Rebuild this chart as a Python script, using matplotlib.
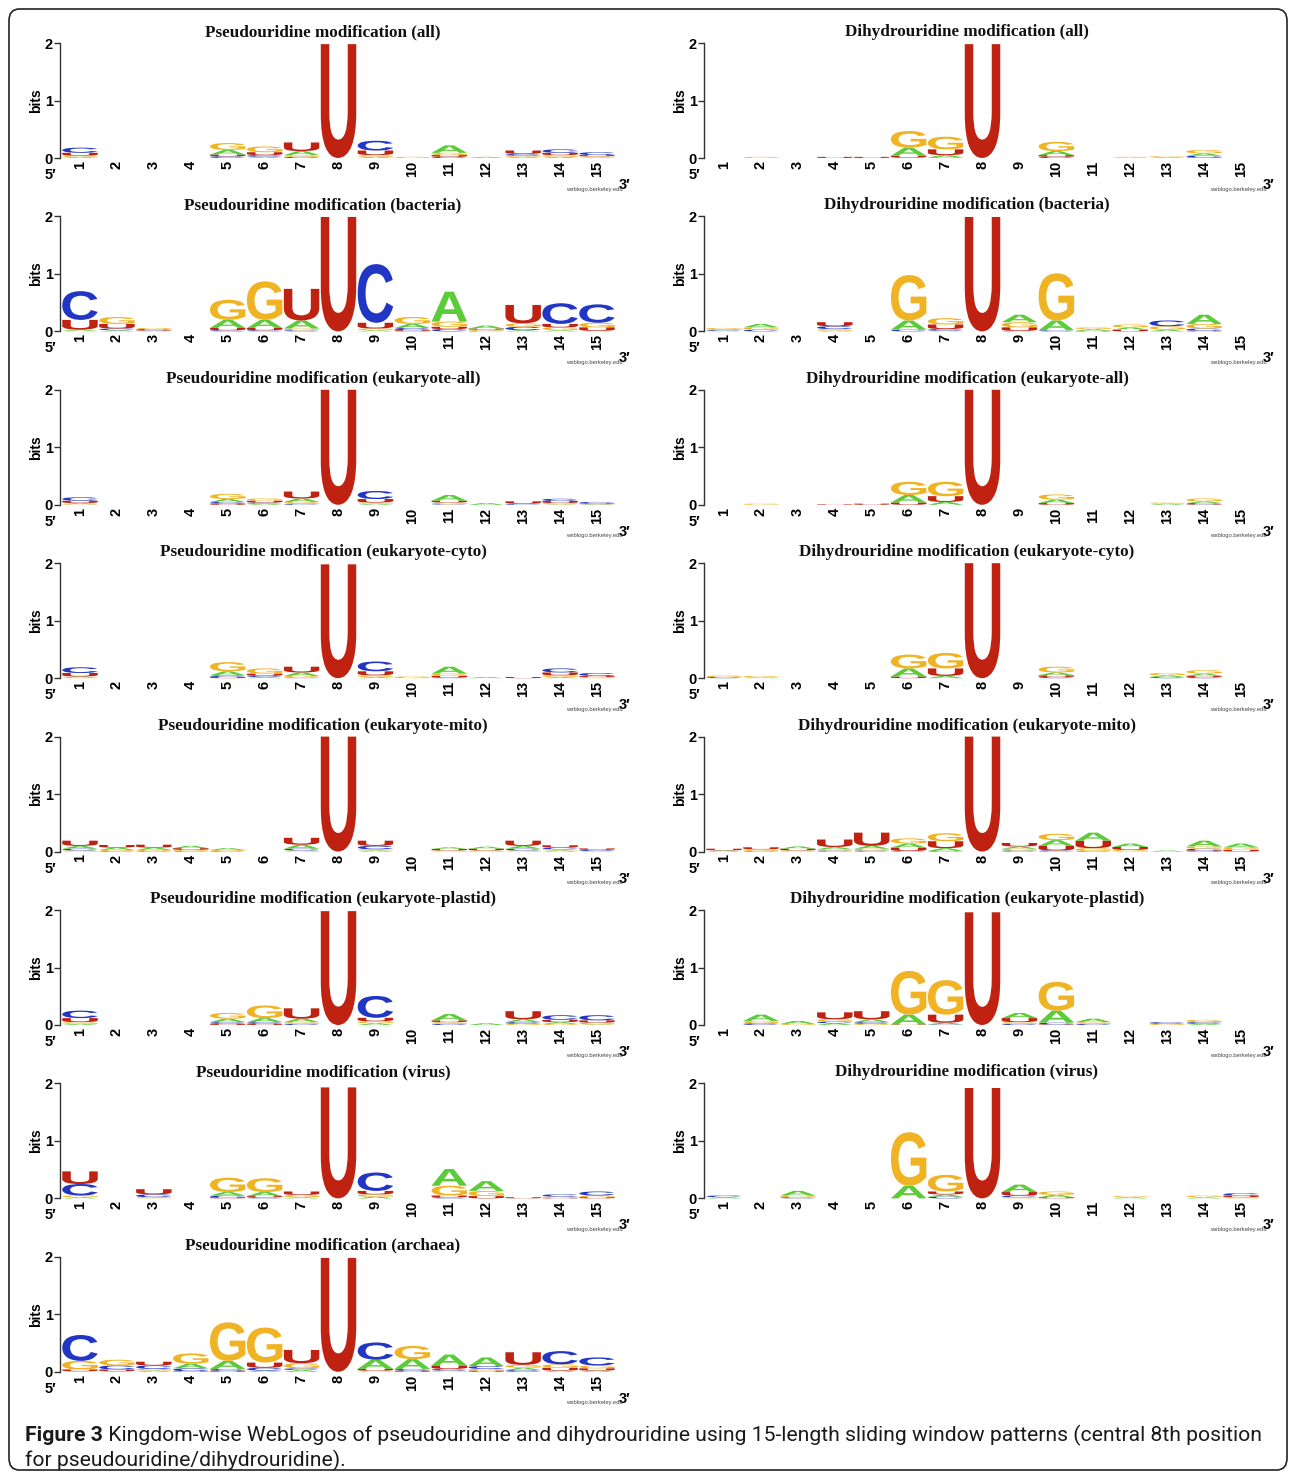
import matplotlib
matplotlib.use("Agg")
import matplotlib.pyplot as plt
import matplotlib.transforms as mtransforms
from matplotlib.textpath import TextPath
from matplotlib.patches import PathPatch, FancyBboxPatch
from matplotlib.font_manager import FontProperties

# ---- data: information content (bits) per letter, positions 1..15 ----
positions = list(range(1, 16))
letters = ["A", "C", "G", "U"]

psi_all = {
    "A": [0.02, 0, 0, 0, 0.08, 0.02, 0.07, 0, 0.02, 0, 0.13, 0.02, 0.02, 0.02, 0.01],
    "C": [0.09, 0, 0, 0, 0.03, 0.03, 0.02, 0, 0.17, 0, 0.02, 0, 0.03, 0.06, 0.05],
    "G": [0.02, 0, 0, 0, 0.12, 0.10, 0.03, 0, 0.03, 0.02, 0.04, 0, 0.02, 0.03, 0.02],
    "U": [0.05, 0, 0, 0, 0.03, 0.05, 0.15, 1.98, 0.08, 0, 0.03, 0, 0.06, 0.04, 0.02],
}
psi_bact = {
    "A": [0.02, 0.02, 0.01, 0, 0.14, 0.14, 0.14, 0, 0.02, 0.07, 0.52, 0.05, 0.02, 0.02, 0.01],
    "C": [0.50, 0.03, 0.02, 0, 0.02, 0.02, 0.02, 0, 1.02, 0.04, 0.04, 0.01, 0.06, 0.36, 0.32],
    "G": [0.01, 0.12, 0.02, 0, 0.35, 0.67, 0.03, 0, 0.03, 0.12, 0.09, 0.02, 0.06, 0.05, 0.08],
    "U": [0.17, 0.08, 0.01, 0, 0.04, 0.04, 0.55, 1.99, 0.10, 0.02, 0.04, 0.02, 0.32, 0.06, 0.06],
}
psi_euk_all = {
    "A": [0.02, 0, 0, 0, 0.05, 0.02, 0.06, 0, 0.02, 0, 0.10, 0.03, 0, 0.01, 0.01],
    "C": [0.06, 0, 0, 0, 0.03, 0.02, 0.02, 0, 0.14, 0, 0.01, 0, 0.02, 0.04, 0.03],
    "G": [0.01, 0, 0, 0, 0.09, 0.04, 0.03, 0, 0.02, 0, 0.03, 0, 0, 0.02, 0],
    "U": [0.04, 0, 0, 0, 0.02, 0.03, 0.12, 2.0, 0.06, 0, 0.03, 0, 0.04, 0.035, 0.01],
}
psi_euk_cyto = {
    "A": [0.02, 0, 0, 0, 0.07, 0.02, 0.06, 0, 0.02, 0, 0.12, 0.02, 0, 0.02, 0],
    "C": [0.10, 0, 0, 0, 0.03, 0.02, 0.01, 0, 0.17, 0, 0.01, 0, 0, 0.07, 0.05],
    "G": [0.01, 0, 0, 0, 0.16, 0.09, 0.03, 0, 0.03, 0.03, 0.04, 0, 0, 0.03, 0.02],
    "U": [0.06, 0, 0, 0, 0.02, 0.04, 0.10, 1.98, 0.07, 0, 0.03, 0, 0.02, 0.05, 0.02],
}
psi_euk_mito = {
    "A": [0.05, 0.04, 0.04, 0.04, 0.03, 0, 0.07, 0, 0.02, 0, 0.03, 0.035, 0.05, 0.02, 0.01],
    "C": [0.03, 0.01, 0.01, 0.01, 0.01, 0, 0.03, 0, 0.06, 0, 0, 0, 0.03, 0.03, 0.02],
    "G": [0.02, 0.02, 0.02, 0.02, 0.02, 0, 0.02, 0, 0.02, 0, 0.02, 0.02, 0.02, 0.02, 0],
    "U": [0.09, 0.045, 0.05, 0.03, 0, 0, 0.12, 2.0, 0.09, 0, 0.025, 0.03, 0.09, 0.04, 0.025],
}
psi_euk_plastid = {
    "A": [0.02, 0, 0, 0, 0.06, 0.07, 0.06, 0, 0.03, 0, 0.11, 0.03, 0.05, 0.03, 0.01],
    "C": [0.13, 0, 0, 0, 0.03, 0.03, 0.02, 0, 0.38, 0, 0.02, 0, 0.03, 0.08, 0.09],
    "G": [0.03, 0, 0, 0, 0.10, 0.22, 0.03, 0, 0.035, 0, 0.03, 0, 0.02, 0.02, 0.03],
    "U": [0.07, 0, 0, 0, 0.02, 0.02, 0.18, 1.98, 0.06, 0, 0.03, 0, 0.14, 0.04, 0.04],
}
psi_virus = {
    "A": [0.02, 0, 0, 0, 0.06, 0.07, 0.02, 0, 0.03, 0, 0.29, 0.17, 0, 0, 0],
    "C": [0.20, 0, 0.05, 0, 0.03, 0.02, 0, 0, 0.32, 0, 0.02, 0, 0, 0.04, 0.07],
    "G": [0.03, 0, 0.02, 0, 0.25, 0.24, 0.04, 0, 0.04, 0, 0.17, 0.09, 0, 0.02, 0.03],
    "U": [0.22, 0, 0.09, 0, 0.02, 0.02, 0.06, 1.93, 0.06, 0, 0.03, 0.04, 0.02, 0.01, 0.02],
}
psi_archaea = {
    "A": [0.01, 0.01, 0.02, 0.08, 0.14, 0.02, 0.03, 0, 0.16, 0.17, 0.19, 0.15, 0.04, 0.02, 0.02],
    "C": [0.45, 0.07, 0.06, 0.05, 0.03, 0.05, 0.03, 0, 0.30, 0.03, 0.03, 0.05, 0.03, 0.23, 0.14],
    "G": [0.15, 0.10, 0.03, 0.18, 0.67, 0.61, 0.09, 0, 0.02, 0.23, 0.02, 0.03, 0.05, 0.06, 0.05],
    "U": [0.03, 0.03, 0.065, 0.01, 0.02, 0.09, 0.23, 1.98, 0.03, 0.02, 0.06, 0.02, 0.22, 0.05, 0.04],
}

d_all = {
    "A": [0, 0, 0, 0, 0, 0.14, 0.04, 0, 0, 0.07, 0, 0.01, 0.015, 0.04, 0],
    "C": [0, 0, 0, 0, 0, 0.01, 0.01, 0, 0, 0.02, 0, 0, 0, 0.03, 0],
    "G": [0, 0.02, 0, 0, 0, 0.29, 0.22, 0, 0, 0.16, 0, 0.01, 0.015, 0.06, 0],
    "U": [0, 0, 0, 0.02, 0.02, 0.03, 0.10, 1.98, 0, 0.03, 0, 0, 0, 0.01, 0],
}
d_bact = {
    "A": [0.01, 0.06, 0, 0.01, 0, 0.16, 0.01, 0, 0.13, 0.17, 0.03, 0.04, 0.03, 0.16, 0],
    "C": [0.02, 0.03, 0, 0.05, 0, 0.03, 0.03, 0, 0.01, 0.02, 0, 0, 0.10, 0.04, 0],
    "G": [0.03, 0.04, 0, 0.03, 0, 0.79, 0.11, 0, 0.09, 0.82, 0.03, 0.05, 0.06, 0.08, 0],
    "U": [0, 0, 0, 0.07, 0, 0, 0.08, 1.99, 0.06, 0, 0.01, 0.03, 0, 0.01, 0],
}
d_euk_all = {
    "A": [0, 0, 0, 0, 0, 0.13, 0.05, 0, 0, 0.06, 0, 0, 0.02, 0.03, 0],
    "C": [0, 0, 0, 0, 0, 0, 0, 0, 0, 0, 0, 0, 0, 0.02, 0],
    "G": [0, 0.02, 0, 0, 0, 0.23, 0.25, 0, 0, 0.09, 0, 0, 0.02, 0.05, 0],
    "U": [0, 0, 0, 0.01, 0.02, 0.04, 0.10, 2.0, 0, 0.03, 0, 0, 0, 0.01, 0],
}
d_euk_cyto = {
    "A": [0, 0.01, 0, 0, 0, 0.14, 0.04, 0, 0, 0.05, 0, 0, 0.03, 0.04, 0],
    "C": [0.02, 0, 0, 0, 0, 0, 0, 0, 0, 0.02, 0, 0, 0.02, 0.02, 0],
    "G": [0.025, 0.03, 0, 0, 0, 0.24, 0.27, 0, 0, 0.10, 0, 0, 0.04, 0.06, 0],
    "U": [0, 0, 0, 0, 0, 0.03, 0.13, 2.0, 0, 0.03, 0, 0, 0, 0.02, 0],
}
d_euk_mito = {
    "A": [0.02, 0, 0.04, 0.04, 0.05, 0.07, 0.05, 0, 0.04, 0.10, 0.14, 0.06, 0.02, 0.10, 0.07],
    "C": [0, 0.01, 0, 0.02, 0.02, 0.01, 0.01, 0, 0.02, 0.02, 0.01, 0, 0, 0.03, 0],
    "G": [0, 0.03, 0.02, 0.02, 0.03, 0.09, 0.14, 0, 0.03, 0.11, 0.05, 0.03, 0, 0.04, 0.04],
    "U": [0.03, 0.035, 0.03, 0.13, 0.23, 0.06, 0.12, 2.0, 0.06, 0.08, 0.13, 0.05, 0, 0.02, 0.03],
}
d_euk_plastid = {
    "A": [0, 0.11, 0.05, 0.03, 0.05, 0.17, 0.03, 0, 0.09, 0.21, 0.06, 0, 0, 0.02, 0],
    "C": [0, 0.03, 0, 0.03, 0.03, 0, 0.01, 0, 0.02, 0.03, 0.02, 0, 0.03, 0.03, 0],
    "G": [0, 0.04, 0.02, 0.04, 0.02, 0.76, 0.60, 0, 0.03, 0.50, 0.03, 0, 0.02, 0.04, 0],
    "U": [0, 0, 0, 0.12, 0.14, 0.01, 0.14, 1.96, 0.07, 0.01, 0, 0, 0, 0, 0],
}
d_virus = {
    "A": [0.02, 0, 0.08, 0, 0, 0.22, 0.04, 0, 0.13, 0.04, 0, 0.02, 0, 0.02, 0],
    "C": [0.03, 0, 0.02, 0, 0, 0, 0.03, 0, 0.03, 0, 0, 0, 0, 0, 0.04],
    "G": [0, 0, 0.03, 0, 0, 0.93, 0.29, 0, 0.02, 0.06, 0, 0.02, 0, 0.03, 0.02],
    "U": [0, 0, 0, 0, 0, 0, 0.05, 1.92, 0.06, 0.02, 0, 0, 0, 0, 0.03],
}

left_titles = ["Pseudouridine modification (all)", "Pseudouridine modification (bacteria)",
               "Pseudouridine modification (eukaryote-all)", "Pseudouridine modification (eukaryote-cyto)",
               "Pseudouridine modification (eukaryote-mito)", "Pseudouridine modification (eukaryote-plastid)",
               "Pseudouridine modification (virus)", "Pseudouridine modification (archaea)"]
left_data = [psi_all, psi_bact, psi_euk_all, psi_euk_cyto, psi_euk_mito, psi_euk_plastid, psi_virus, psi_archaea]
right_titles = ["Dihydrouridine modification (all)", "Dihydrouridine modification (bacteria)",
                "Dihydrouridine modification (eukaryote-all)", "Dihydrouridine modification (eukaryote-cyto)",
                "Dihydrouridine modification (eukaryote-mito)", "Dihydrouridine modification (eukaryote-plastid)",
                "Dihydrouridine modification (virus)"]
right_data = [d_all, d_bact, d_euk_all, d_euk_cyto, d_euk_mito, d_euk_plastid, d_virus]

caption_bold = "Figure 3"
caption_rest = (" Kingdom-wise WebLogos of pseudouridine and dihydrouridine using 15-length sliding window patterns (central 8th position")
caption_line2 = "for pseudouridine/dihydrouridine)."

colors = {"A": "#5ccb3a", "C": "#2136c4", "G": "#f0b323", "U": "#bf2210"}

# ---- layout (pixels) ----
W, H = 1290, 1477
fig = plt.figure(figsize=(W / 100, H / 100), dpi=100)
fig.patch.set_facecolor("white")

def fx(px):
    return px / W

def fy(py):
    return 1 - py / H

glyph_font = FontProperties(family="Liberation Sans", weight="bold")
glyphs = {}
for ch in letters:
    p = TextPath((0, 0), ch, size=1, prop=glyph_font)
    glyphs[ch] = (p, p.get_extents())

sans_b = dict(family=["Liberation Sans", "DejaVu Sans"], fontweight="bold")
serif_b = dict(family=["Liberation Serif", "DejaVu Serif"], fontweight="bold")

SP = 36.93          # pixels per position
ROW = 173.4         # pixels between panels
X0, X1 = 0.45, 15.5


def draw_logo(col_off, row, title, data):
    top = 43 + ROW * row
    bot = 158 + ROW * row
    left = 80 + col_off - (1 - X0) * SP
    width = (X1 - X0) * SP
    ax = fig.add_axes([fx(left), fy(bot), fx(width), (bot - top) / H])
    ax.set_xlim(X0, X1)
    ax.set_ylim(0, 2)
    for s in ["top", "right", "bottom"]:
        ax.spines[s].set_visible(False)
    ax.spines["left"].set_linewidth(1.0)
    ax.spines["left"].set_color("#333333")
    ax.set_yticks([0, 1, 2])
    ax.set_yticklabels(["0", "1", "2"], fontsize=10.5, **sans_b)
    ax.tick_params(axis="y", length=4, width=1, pad=1, color="#333333")
    ax.set_xticks(positions)
    ax.set_xticklabels([str(p) for p in positions], rotation=90, fontsize=10.5,
                       va="top", ha="center", **sans_b)
    ax.tick_params(axis="x", length=0, pad=2)
    ax.set_ylabel("bits", fontsize=10, labelpad=1, **sans_b)
    ax.patch.set_alpha(0)

    for i, pos in enumerate(positions):
        stack = sorted(letters, key=lambda c: data[c][i])
        y = 0.0
        for ch in stack:
            h = data[ch][i]
            if h <= 0:
                continue
            path, ext = glyphs[ch]
            w = 0.96
            t = (mtransforms.Affine2D()
                 .translate(-ext.x0, -ext.y0)
                 .scale(w / ext.width, h / ext.height)
                 .translate(pos - w / 2, y))
            ax.add_patch(PathPatch(t.transform_path(path), facecolor=colors[ch],
                                   edgecolor="none", clip_on=False))
            y += h

    fig.text(fx(323 + col_off), fy(32 + ROW * row), title, ha="center", va="center",
             fontsize=12.3, color="#111111", **serif_b)
    fig.text(fx(50 + col_off), fy(175 + ROW * row), "5\u2032", ha="center", va="center",
             fontsize=10.5, **sans_b)
    fig.text(fx(625 + col_off), fy(185 + ROW * row), "3\u2032", ha="center", va="center",
             fontsize=10.5, **sans_b)
    fig.text(fx(594 + col_off), fy(189 + ROW * row), "weblogo.berkeley.edu", ha="center",
             va="center", fontsize=4.2, color="#444444", family="Liberation Sans")


for r, (t, d) in enumerate(zip(left_titles, left_data)):
    draw_logo(0, r, t, d)
for r, (t, d) in enumerate(zip(right_titles, right_data)):
    draw_logo(644, r, t, d)

# ---- frame ----
frame = FancyBboxPatch((fx(9), fy(1470)), fx(1278), (1470 - 9) / H,
                       boxstyle="round,pad=0,rounding_size=0.008",
                       transform=fig.transFigure, facecolor="none",
                       edgecolor="#222222", linewidth=1.2)
fig.patches.append(frame)

# ---- caption ----
cap_font = ["Roboto", "DejaVu Sans"]
fs = 14
t1 = fig.text(fx(25), fy(1441), caption_bold, ha="left", va="baseline", fontsize=fs,
              family=cap_font, fontweight="bold", color="#1a1a1a")
renderer = fig.canvas.get_renderer()
t2 = fig.text(0, fy(1441), caption_rest, ha="left", va="baseline", fontsize=fs,
              family=cap_font, color="#1a1a1a")
w1 = t1.get_window_extent(renderer).width
w2 = t2.get_window_extent(renderer).width
scale = 1245 / (w1 + w2)
fs = fs * scale
t1.set_fontsize(fs)
t2.set_fontsize(fs)
w1 = t1.get_window_extent(renderer).width
t2.set_x(fx(25 + w1))
fig.text(fx(25), fy(1466), caption_line2, ha="left", va="baseline", fontsize=fs,
         family=cap_font, color="#1a1a1a")

fig.savefig("out.png", dpi=100, facecolor="white")
